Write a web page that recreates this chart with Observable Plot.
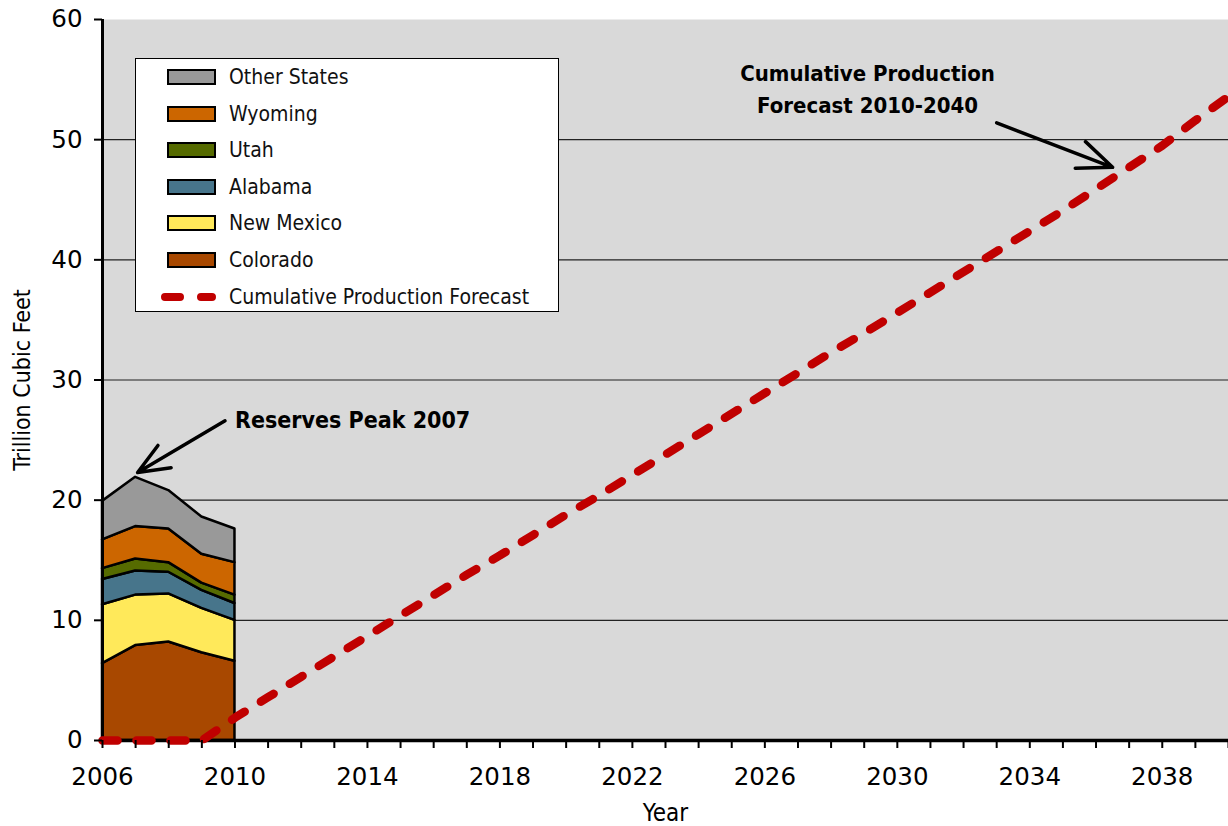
<!DOCTYPE html>
<html>
<head>
<meta charset="utf-8">
<script src="https://cdn.jsdelivr.net/npm/d3@7"></script>
<script src="https://cdn.jsdelivr.net/npm/@observablehq/plot@0.6"></script>
<style>
  html, body { margin: 0; padding: 0; background: #fff; }
  #wrap { position: relative; width: 1228px; height: 826px; }
  #legend { position: absolute; left: 135px; top: 58px; width: 424px; height: 254px;
    background: #fff; border: 1.5px solid #000; box-sizing: border-box;
    font-family: "DejaVu Sans Condensed", "DejaVu Sans", sans-serif; font-stretch: condensed; font-size: 21px; color: #111; }
  .row { position: absolute; left: 0; height: 30px; display: flex; align-items: center; }
  .sw { width: 45px; height: 12px; border: 2px solid #000; margin-left: 31px; margin-right: 13px; }
</style>
</head>
<body>
<div id="wrap"></div>
<script>
// ---- data ----
const years = [2006, 2007, 2008, 2009, 2010];
const colorado   = [6.4, 7.9, 8.2, 7.3, 6.6];
const newMexico  = [4.9, 4.2, 4.0, 3.7, 3.4];
const alabama    = [2.1, 2.0, 1.8, 1.5, 1.4];
const utah       = [0.9, 1.0, 0.8, 0.6, 0.7];
const wyoming    = [2.4, 2.7, 2.8, 2.4, 2.7];
const otherStates= [3.2, 4.1, 3.2, 3.1, 2.8];
const seriesNames = ["Colorado", "New Mexico", "Alabama", "Utah", "Wyoming", "Other States"];
const seriesColors = ["#a84800", "#ffe95a", "#47758b", "#566b00", "#cc6600", "#999999"];
const seriesValues = [colorado, newMexico, alabama, utah, wyoming, otherStates];

const forecastYears = [2006,2007,2008,2009,2010,2011,2012,2013,2014,2015,2016,2017,2018,2019,2020,2021,2022,2023,2024,2025,2026,2027,2028,2029,2030,2031,2032,2033,2034,2035,2036,2037,2038,2039,2040];
const forecast = [0,0,0,0,1.9,3.6,5.3,7.0,8.7,10.4,12.1,13.8,15.4,17.1,18.8,20.4,22.1,23.8,25.5,27.2,28.9,30.6,32.3,33.9,35.6,37.3,39.0,40.7,42.4,44.1,45.9,47.7,49.5,51.6,53.6];
const forecastLabel = "Cumulative Production Forecast";

const yTicks = [0, 10, 20, 30, 40, 50, 60];
const gridValues = [10, 20, 30, 40, 50];
const xLabelYears = [2006, 2010, 2014, 2018, 2022, 2026, 2030, 2034, 2038];

const peakNote = [{x: 2010.0, y: 26.6, text: "Reserves Peak 2007"}];
const forecastNote = [{x: 2029.1, y: 54.4, text: "Cumulative Production\nForecast 2010-2040"}];
const arrows = [
  {x1: 2009.7, y1: 26.6, x2: 2007.06, y2: 22.3},
  {x1: 2033.0, y1: 51.4, x2: 2036.5, y2: 47.7}
];

// ---- build tidy table ----
const stackData = [];
seriesNames.forEach((name, i) => {
  years.forEach((yr, j) => stackData.push({year: yr, state: name, value: seriesValues[i][j]}));
});
const lineData = forecastYears.map((yr, i) => ({year: yr, value: forecast[i]}));

const narrow = "DejaVu Sans Condensed, DejaVu Sans, sans-serif";
const tickFont = "DejaVu Sans, sans-serif";

const chart = Plot.plot({
  width: 1228,
  height: 826,
  marginLeft: 102,
  marginRight: 0,
  marginTop: 19,
  marginBottom: 86,
  style: {background: "transparent", color: "#000"},
  x: {domain: [2006, 2040]},
  y: {domain: [0, 60]},
  color: {domain: seriesNames, range: seriesColors},
  marks: [
    Plot.frame({fill: "#d9d9d9", stroke: "none"}),
    Plot.ruleY(gridValues, {stroke: "#222", strokeWidth: 1.2}),
    Plot.areaY(stackData, {x: "year", y: "value", z: "state", fill: "state",
      order: seriesNames, stroke: "#000", strokeWidth: 2.5, strokeLinejoin: "round"}),
    Plot.ruleX([2006], {stroke: "#000", strokeWidth: 3}),
    Plot.ruleY([0], {stroke: "#000", strokeWidth: 3.5}),
    Plot.line(lineData, {x: "year", y: "value", stroke: "#c00000", strokeWidth: 8.5,
      strokeLinecap: "round", strokeDasharray: "15,19"}),
    Plot.axisY({ticks: yTicks, tickSize: 8, tickPadding: 12, strokeWidth: 2,
      fontSize: 24.5, fontFamily: tickFont, label: null}),
    Plot.axisX({ticks: forecastYears, tickSize: 8, tickPadding: 19, strokeWidth: 2,
      fontSize: 24.5, fontFamily: tickFont, label: null,
      tickFormat: d => xLabelYears.includes(d) ? String(d) : ""}),
    Plot.text(["Trillion Cubic Feet"], {frameAnchor: "left", dx: -80, rotate: -90, textAnchor: "middle",
      lineAnchor: "middle", fontSize: 23, fontFamily: narrow, fill: "#000"}),
    Plot.text(["Year"], {frameAnchor: "bottom", dy: 73, lineAnchor: "middle", textAnchor: "middle",
      fontSize: 24, fontFamily: narrow, fill: "#000"}),
    Plot.arrow(arrows, {x1: "x1", y1: "y1", x2: "x2", y2: "y2", stroke: "#000",
      strokeWidth: 3.5, headLength: 16, headAngle: 45}),
    Plot.text(peakNote, {x: "x", y: "y", text: "text", textAnchor: "start", fontSize: 23,
      fontWeight: "bold", fontFamily: narrow, fill: "#000"}),
    Plot.text(forecastNote, {x: "x", y: "y", text: "text", textAnchor: "middle", fontSize: 22,
      fontWeight: "bold", fontFamily: narrow, fill: "#000", lineHeight: 1.45})
  ]
});

const wrap = document.getElementById("wrap");
wrap.appendChild(chart);

// ---- legend (inside the plot area, top-left) ----
const legend = document.createElement("div");
legend.id = "legend";
const legendOrder = seriesNames.slice().reverse();
const rowsTop = 3;
const rowStep = 36.6;
legendOrder.forEach((name, k) => {
  const color = seriesColors[seriesNames.indexOf(name)];
  const row = document.createElement("div");
  row.className = "row";
  row.style.top = (rowsTop + k * rowStep) + "px";
  row.innerHTML = `<div class="sw" style="background:${color}"></div><span>${name}</span>`;
  legend.appendChild(row);
});
const lrow = document.createElement("div");
lrow.className = "row";
lrow.style.top = (rowsTop + 6 * rowStep) + "px";
lrow.innerHTML = `<svg width="57" height="10" style="margin-left:24px;margin-right:12px"><line x1="5" y1="5" x2="52" y2="5" stroke="#c00000" stroke-width="8" stroke-linecap="round" stroke-dasharray="15,21"/></svg><span>${forecastLabel}</span>`;
legend.appendChild(lrow);
wrap.appendChild(legend);
</script>
</body>
</html>
